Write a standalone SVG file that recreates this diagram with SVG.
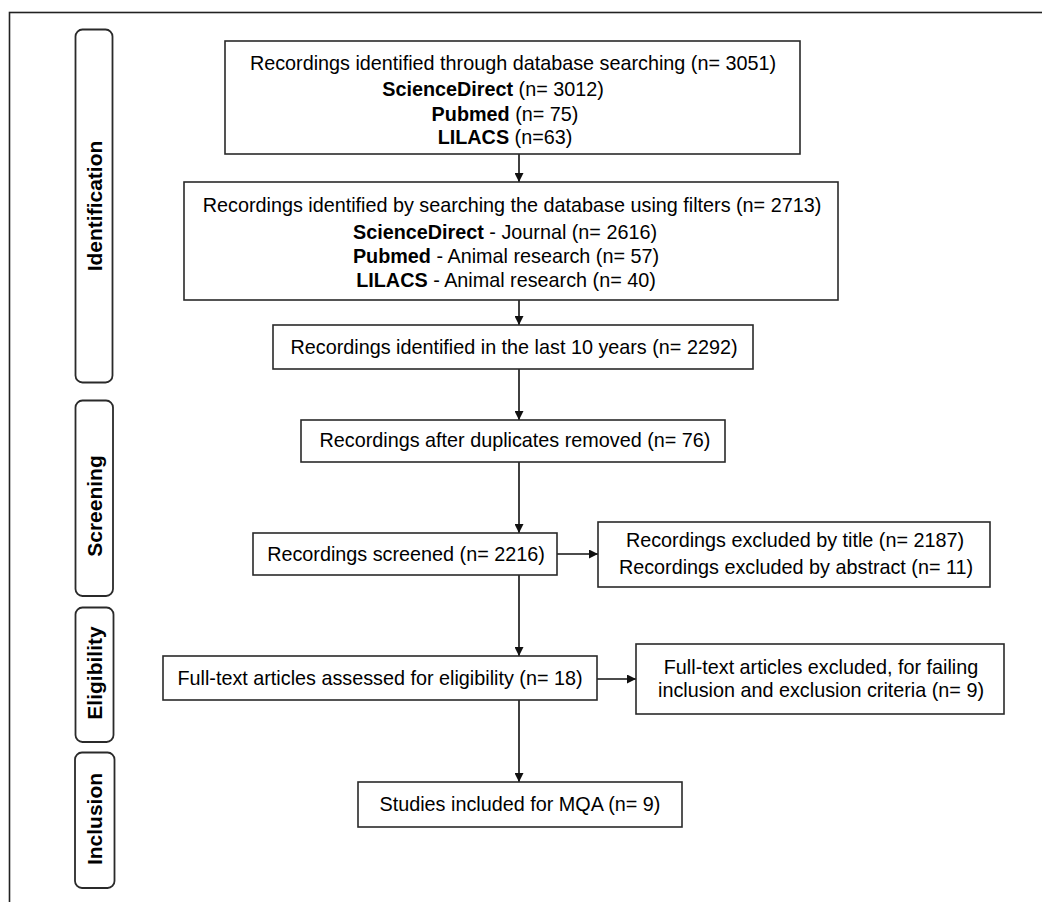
<svg xmlns="http://www.w3.org/2000/svg" width="1042" height="902" viewBox="0 0 1042 902">
<defs>
<marker id="ah" markerWidth="9" markerHeight="9" refX="9" refY="4.5" orient="auto" markerUnits="userSpaceOnUse">
<path d="M0,0 L9,4.5 L0,9 z" fill="#111"/>
</marker>
<style>
.box{fill:#fff;stroke:#2a2a2a;stroke-width:1.6}
.side{fill:#fff;stroke:#2a2a2a;stroke-width:1.8}
.t{font-family:"Liberation Sans",Arial,sans-serif;font-size:19.8px;fill:#000;text-anchor:middle}
.b{font-weight:bold}
.st{font-family:"Liberation Sans",Arial,sans-serif;font-size:21px;font-weight:bold;fill:#000;text-anchor:middle}
.c{stroke:#111;stroke-width:1.6;fill:none;marker-end:url(#ah)}
</style>
</defs>
<rect width="1042" height="902" fill="#fff"/>
<rect x="9.5" y="12.5" width="1100" height="1000" fill="none" stroke="#222" stroke-width="1.6"/>

<g id="phase-identification">
<rect class="side" x="75.5" y="29.5" width="37" height="353" rx="7"/>
<text class="st" transform="translate(101.5,206) rotate(-90)">Identification</text>
</g>
<g id="phase-screening">
<rect class="side" x="75.5" y="400.5" width="37.5" height="195.5" rx="7"/>
<text class="st" transform="translate(101.5,506) rotate(-90)">Screening</text>
</g>
<g id="phase-eligibility">
<rect class="side" x="75.5" y="607.5" width="38" height="134.5" rx="7"/>
<text class="st" transform="translate(101.5,673) rotate(-90)">Eligibility</text>
</g>
<g id="phase-inclusion">
<rect class="side" x="75" y="752.5" width="39.5" height="135.5" rx="7"/>
<text class="st" transform="translate(101.5,819) rotate(-90)">Inclusion</text>
</g>

<g id="connectors">
<line class="c" x1="519" y1="154" x2="519" y2="182"/>
<line class="c" x1="519" y1="300" x2="519" y2="325"/>
<line class="c" x1="519" y1="369" x2="519" y2="420"/>
<line class="c" x1="519" y1="462" x2="519" y2="533"/>
<line class="c" x1="557" y1="554" x2="598" y2="554"/>
<line class="c" x1="519" y1="575" x2="519" y2="656"/>
<line class="c" x1="597" y1="679" x2="636" y2="679"/>
<line class="c" x1="519" y1="700" x2="519" y2="782"/>
</g>

<g id="n1">
<rect class="box" x="225" y="41" width="575" height="113"/>
<text class="t" x="513" y="70">Recordings identified through database searching (n= 3051)</text>
<text class="t" x="493" y="96"><tspan class="b">ScienceDirect</tspan> (n= 3012)</text>
<text class="t" x="505" y="121"><tspan class="b">Pubmed</tspan> (n= 75)</text>
<text class="t" x="505" y="144"><tspan class="b">LILACS</tspan> (n=63)</text>
</g>
<g id="n2">
<rect class="box" x="184" y="182" width="654" height="118"/>
<text class="t" x="512" y="212">Recordings identified by searching the database using filters (n= 2713)</text>
<text class="t" x="505" y="239"><tspan class="b">ScienceDirect</tspan> - Journal (n= 2616)</text>
<text class="t" x="506" y="263"><tspan class="b">Pubmed</tspan> - Animal research (n= 57)</text>
<text class="t" x="506" y="287"><tspan class="b">LILACS</tspan> - Animal research (n= 40)</text>
</g>
<g id="n3">
<rect class="box" x="273" y="325" width="480" height="44"/>
<text class="t" x="514" y="354">Recordings identified in the last 10 years (n= 2292)</text>
</g>
<g id="n4">
<rect class="box" x="301" y="420" width="424" height="42"/>
<text class="t" x="515" y="447">Recordings after duplicates removed (n= 76)</text>
</g>
<g id="n5">
<rect class="box" x="253" y="533" width="304" height="42"/>
<text class="t" x="406" y="561">Recordings screened (n= 2216)</text>
</g>
<g id="n6">
<rect class="box" x="598" y="522" width="392" height="65"/>
<text class="t" x="795" y="547">Recordings excluded by title (n= 2187)</text>
<text class="t" x="796" y="574">Recordings excluded by abstract (n= 11)</text>
</g>
<g id="n7">
<rect class="box" x="163" y="656" width="434" height="44"/>
<text class="t" x="380" y="685">Full-text articles assessed for eligibility (n= 18)</text>
</g>
<g id="n8">
<rect class="box" x="636" y="644" width="368" height="70"/>
<text class="t" x="821" y="674">Full-text articles excluded, for failing</text>
<text class="t" x="821" y="697">inclusion and exclusion criteria (n= 9)</text>
</g>
<g id="n9">
<rect class="box" x="358" y="782" width="324" height="45"/>
<text class="t" x="520" y="811">Studies included for MQA (n= 9)</text>
</g>
</svg>
